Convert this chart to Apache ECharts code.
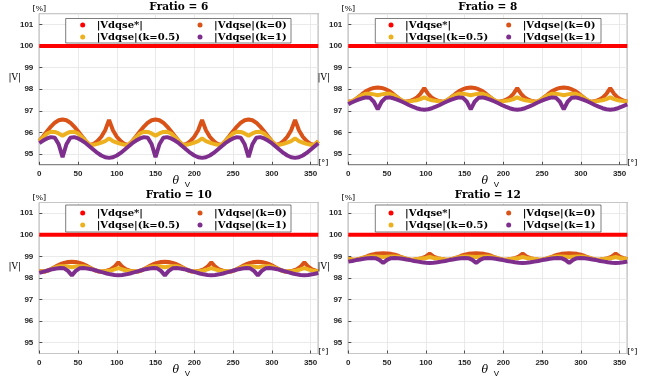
<!DOCTYPE html>
<html>
<head>
<meta charset="utf-8">
<script src="https://cdn.jsdelivr.net/npm/echarts@6/dist/echarts.min.js"></script>
<style>
  html, body { margin: 0; padding: 0; background: #fff; }
  #chart { width: 646px; height: 381px; }
</style>
</head>
<body>
<div id="chart"></div>
<script>
// legend names and panel titles
const seriesNames = ['|Vdqse*|', '|Vdqse|(k=0)', '|Vdqse|(k=0.5)', '|Vdqse|(k=1)'];
const panelTitles = ['Fratio = 6', 'Fratio = 8', 'Fratio = 10', 'Fratio = 12'];

// reference magnitude (flat 100 %)
const refTheta = [0, 360];
const refLevel = [100, 100];

// angle samples [deg]
const theta5 = [
  0,5,10,15,20,25,30,35,40,45,50,55,60,65,70,75,80,85,90,95,100,105,110,115,
  120,125,130,135,140,145,150,155,160,165,170,175,180,185,190,195,200,205,210,215,220,225,230,235,
  240,245,250,255,260,265,270,275,280,285,290,295,300,305,310,315,320,325,330,335,340,345,350,355,
  360
];
const theta8 = [
  0,
  3,8,13,18,23,28,33,38,43,48,53,58,63,68,73,78,83,88,93,98,103,108,113,118,
  123,128,133,138,143,148,153,158,163,168,173,178,183,188,193,198,203,208,213,218,223,228,233,238,
  243,248,253,258,263,268,273,278,283,288,293,298,303,308,313,318,323,328,333,338,343,348,353,358,
  360
];
const theta10 = [
  0,
  2,7,12,17,22,27,32,37,42,47,52,57,62,67,72,77,82,87,92,97,102,107,112,117,
  122,127,132,137,142,147,152,157,162,167,172,177,182,187,192,197,202,207,212,217,222,227,232,237,
  242,247,252,257,262,267,272,277,282,287,292,297,302,307,312,317,322,327,332,337,342,347,352,357,
  360
];

// Fratio = 6
const k0Fr6 = [
  95.6,95.82,96.05,96.27,96.45,96.56,96.6,96.56,96.45,96.27,96.05,95.82,95.6,95.42,95.46,95.6,95.8,96.1,96.58,96.1,95.8,95.6,95.46,95.42,
  95.6,95.82,96.05,96.27,96.45,96.56,96.6,96.56,96.45,96.27,96.05,95.82,95.6,95.42,95.46,95.6,95.8,96.1,96.58,96.1,95.8,95.6,95.46,95.42,
  95.6,95.82,96.05,96.27,96.45,96.56,96.6,96.56,96.45,96.27,96.05,95.82,95.6,95.42,95.46,95.6,95.8,96.1,96.58,96.1,95.8,95.6,95.46,95.42,
  95.6
];
const k05Fr6 = [
  95.6,95.78,95.95,96.03,96.02,95.95,95.85,95.95,96.02,96.03,95.95,95.78,95.6,95.42,95.43,95.47,95.53,95.6,95.72,95.6,95.53,95.47,95.43,95.42,
  95.6,95.78,95.95,96.03,96.02,95.95,95.85,95.95,96.02,96.03,95.95,95.78,95.6,95.42,95.43,95.47,95.53,95.6,95.72,95.6,95.53,95.47,95.43,95.42,
  95.6,95.78,95.95,96.03,96.02,95.95,95.85,95.95,96.02,96.03,95.95,95.78,95.6,95.42,95.43,95.47,95.53,95.6,95.72,95.6,95.53,95.47,95.43,95.42,
  95.6
];
const k1Fr6 = [
  95.5,95.62,95.72,95.78,95.75,95.45,94.85,95.45,95.75,95.78,95.72,95.62,95.5,95.35,95.2,95.05,94.93,94.85,94.82,94.85,94.93,95.05,95.2,95.35,
  95.5,95.62,95.72,95.78,95.75,95.45,94.85,95.45,95.75,95.78,95.72,95.62,95.5,95.35,95.2,95.05,94.93,94.85,94.82,94.85,94.93,95.05,95.2,95.35,
  95.5,95.62,95.72,95.78,95.75,95.45,94.85,95.45,95.75,95.78,95.72,95.62,95.5,95.35,95.2,95.05,94.93,94.85,94.82,94.85,94.93,95.05,95.2,95.35,
  95.5
];

// Fratio = 8
const k0Fr8 = [
  97.43,
  97.42,97.5,97.64,97.78,97.91,98.0,98.06,98.08,98.06,98.0,97.91,97.78,97.64,97.5,97.42,97.44,97.5,97.6,97.78,98.05,97.78,97.6,97.5,97.44,
  97.42,97.5,97.64,97.78,97.91,98.0,98.06,98.08,98.06,98.0,97.91,97.78,97.64,97.5,97.42,97.44,97.5,97.6,97.78,98.05,97.78,97.6,97.5,97.44,
  97.42,97.5,97.64,97.78,97.91,98.0,98.06,98.08,98.06,98.0,97.91,97.78,97.64,97.5,97.42,97.44,97.5,97.6,97.78,98.05,97.78,97.6,97.5,97.44,
  97.43
];
const k05Fr8 = [
  97.43,
  97.42,97.5,97.62,97.73,97.79,97.79,97.76,97.72,97.76,97.79,97.79,97.73,97.62,97.5,97.42,97.43,97.46,97.49,97.54,97.62,97.54,97.49,97.46,97.43,
  97.42,97.5,97.62,97.73,97.79,97.79,97.76,97.72,97.76,97.79,97.79,97.73,97.62,97.5,97.42,97.43,97.46,97.49,97.54,97.62,97.54,97.49,97.46,97.43,
  97.42,97.5,97.62,97.73,97.79,97.79,97.76,97.72,97.76,97.79,97.79,97.73,97.62,97.5,97.42,97.43,97.46,97.49,97.54,97.62,97.54,97.49,97.46,97.43,
  97.43
];
const k1Fr8 = [
  97.3,
  97.36,97.44,97.52,97.58,97.62,97.6,97.42,97.07,97.42,97.6,97.62,97.58,97.52,97.44,97.36,97.27,97.19,97.12,97.07,97.05,97.07,97.12,97.19,97.27,
  97.36,97.44,97.52,97.58,97.62,97.6,97.42,97.07,97.42,97.6,97.62,97.58,97.52,97.44,97.36,97.27,97.19,97.12,97.07,97.05,97.07,97.12,97.19,97.27,
  97.36,97.44,97.52,97.58,97.62,97.6,97.42,97.07,97.42,97.6,97.62,97.58,97.52,97.44,97.36,97.27,97.19,97.12,97.07,97.05,97.07,97.12,97.19,97.27,
  97.3
];

// Fratio = 10
const k0Fr10 = [
  98.32,
  98.31,98.3,98.36,98.45,98.55,98.64,98.7,98.74,98.75,98.74,98.7,98.64,98.55,98.45,98.36,98.3,98.31,98.34,98.4,98.52,98.73,98.52,98.4,98.34,
  98.31,98.3,98.36,98.45,98.55,98.64,98.7,98.74,98.75,98.74,98.7,98.64,98.55,98.45,98.36,98.3,98.31,98.34,98.4,98.52,98.73,98.52,98.4,98.34,
  98.31,98.3,98.36,98.45,98.55,98.64,98.7,98.74,98.75,98.74,98.7,98.64,98.55,98.45,98.36,98.3,98.31,98.34,98.4,98.52,98.73,98.52,98.4,98.34,
  98.32
];
const k05Fr10 = [
  98.31,
  98.31,98.3,98.36,98.44,98.51,98.55,98.55,98.53,98.5,98.53,98.55,98.55,98.51,98.44,98.36,98.3,98.31,98.32,98.35,98.4,98.46,98.4,98.35,98.32,
  98.31,98.3,98.36,98.44,98.51,98.55,98.55,98.53,98.5,98.53,98.55,98.55,98.51,98.44,98.36,98.3,98.31,98.32,98.35,98.4,98.46,98.4,98.35,98.32,
  98.31,98.3,98.36,98.44,98.51,98.55,98.55,98.53,98.5,98.53,98.55,98.55,98.51,98.44,98.36,98.3,98.31,98.32,98.35,98.4,98.46,98.4,98.35,98.32,
  98.31
];
const k1Fr10 = [
  98.24,
  98.26,98.31,98.36,98.41,98.44,98.46,98.45,98.33,98.12,98.33,98.45,98.46,98.44,98.41,98.36,98.31,98.26,98.21,98.17,98.14,98.13,98.14,98.17,98.21,
  98.26,98.31,98.36,98.41,98.44,98.46,98.45,98.33,98.12,98.33,98.45,98.46,98.44,98.41,98.36,98.31,98.26,98.21,98.17,98.14,98.13,98.14,98.17,98.21,
  98.26,98.31,98.36,98.41,98.44,98.46,98.45,98.33,98.12,98.33,98.45,98.46,98.44,98.41,98.36,98.31,98.26,98.21,98.17,98.14,98.13,98.14,98.17,98.21,
  98.24
];

// Fratio = 12
const k0Fr12 = [
  98.88,98.86,98.85,98.89,98.95,99.02,99.08,99.12,99.14,99.15,99.14,99.12,99.08,99.02,98.95,98.89,98.85,98.86,98.88,98.92,98.99,99.13,98.99,98.92,
  98.88,98.86,98.85,98.89,98.95,99.02,99.08,99.12,99.14,99.15,99.14,99.12,99.08,99.02,98.95,98.89,98.85,98.86,98.88,98.92,98.99,99.13,98.99,98.92,
  98.88,98.86,98.85,98.89,98.95,99.02,99.08,99.12,99.14,99.15,99.14,99.12,99.08,99.02,98.95,98.89,98.85,98.86,98.88,98.92,98.99,99.13,98.99,98.92,
  98.88
];
const k05Fr12 = [
  98.88,98.86,98.85,98.89,98.94,98.98,99.0,99.0,98.99,98.97,98.99,99.0,99.0,98.98,98.94,98.89,98.85,98.86,98.88,98.9,98.93,98.97,98.93,98.9,
  98.88,98.86,98.85,98.89,98.94,98.98,99.0,99.0,98.99,98.97,98.99,99.0,99.0,98.98,98.94,98.89,98.85,98.86,98.88,98.9,98.93,98.97,98.93,98.9,
  98.88,98.86,98.85,98.89,98.94,98.98,99.0,99.0,98.99,98.97,98.99,99.0,99.0,98.98,98.94,98.89,98.85,98.86,98.88,98.9,98.93,98.97,98.93,98.9,
  98.88
];
const k1Fr12 = [
  98.76,98.79,98.83,98.86,98.89,98.92,98.93,98.92,98.84,98.7,98.84,98.92,98.93,98.92,98.89,98.86,98.83,98.79,98.76,98.73,98.71,98.7,98.71,98.73,
  98.76,98.79,98.83,98.86,98.89,98.92,98.93,98.92,98.84,98.7,98.84,98.92,98.93,98.92,98.89,98.86,98.83,98.79,98.76,98.73,98.71,98.7,98.71,98.73,
  98.76,98.79,98.83,98.86,98.89,98.92,98.93,98.92,98.84,98.7,98.84,98.92,98.93,98.92,98.89,98.86,98.83,98.79,98.76,98.73,98.71,98.7,98.71,98.73,
  98.76
];

const panelData = [
  { theta: theta5, k0: k0Fr6, k05: k05Fr6, k1: k1Fr6 },
  { theta: theta8, k0: k0Fr8, k05: k05Fr8, k1: k1Fr8 },
  { theta: theta10, k0: k0Fr10, k05: k05Fr10, k1: k1Fr10 },
  { theta: theta5, k0: k0Fr12, k05: k05Fr12, k1: k1Fr12 },
];

// layout of the 2x2 subplots (px)
const panels = [
  { left: 39.3, top: 13.6, height: 151.2, box: [65.7, 18.5, 225.3, 24.5], col: [82.7, 200], row: 25, titleY: 7 },
  { left: 348.3, top: 13.6, height: 151.2, box: [375.3, 18.5, 225.7, 24.5], col: [391, 508.7], row: 25, titleY: 7 },
  { left: 39.3, top: 202.5, height: 151, box: [65.7, 205, 225.3, 27], col: [82.7, 200], row: 213, titleY: 195.5 },
  { left: 348.3, top: 202.5, height: 151, box: [375.3, 205, 225.7, 27], col: [391, 508.7], row: 213, titleY: 195.5 },
];
const plotWidth = 279;

const colors = ['#ff0000', '#d95319', '#edb120', '#7e2f8e'];
const axisColor = '#262626';
const serif = '"DejaVu Serif", serif';
const tickFont = { fontFamily: 'Liberation Sans', fontSize: 8, fontWeight: 'bold', color: axisColor };

const chart = echarts.init(document.getElementById('chart'));

const grids = [], xAxes = [], yAxes = [], series = [], legends = [], graphics = [];

panels.forEach((p, i) => {
  grids.push({
    left: p.left, top: p.top, width: plotWidth, height: p.height,
    show: true, borderColor: axisColor, borderWidth: 0.8, backgroundColor: '#fff',
  });
  xAxes.push({
    gridIndex: i, type: 'value', min: 0, max: 360, interval: 50,
    axisLine: { show: false },
    axisTick: { inside: true, length: 3, lineStyle: { color: axisColor, width: 0.8 } },
    axisLabel: { ...tickFont, margin: 5, showMaxLabel: false },
    splitLine: { lineStyle: { color: '#e4e4e4', width: 0.8 } },
  });
  yAxes.push({
    gridIndex: i, type: 'value', min: 94.5, max: 101.5, splitNumber: 7,
    axisLine: { show: false },
    axisTick: { inside: true, length: 3, lineStyle: { color: axisColor, width: 0.8 } },
    axisLabel: { ...tickFont, margin: 6, showMinLabel: false, showMaxLabel: false },
    splitLine: { lineStyle: { color: '#e4e4e4', width: 0.8 } },
  });

  const d = panelData[i];
  const lines = [
    refTheta.map((t, j) => [t, refLevel[j]]),
    d.theta.map((t, j) => [t, d.k0[j]]),
    d.theta.map((t, j) => [t, d.k05[j]]),
    d.theta.map((t, j) => [t, d.k1[j]]),
  ];
  lines.forEach((data, s) => {
    series.push({
      name: seriesNames[s], type: 'line', xAxisIndex: i, yAxisIndex: i,
      data, showSymbol: false, symbol: 'none', animation: false,
      lineStyle: { color: colors[s], width: 4 },
      itemStyle: { color: colors[s] },
      z: 2 + s,
    });
  });

  // legend, two columns over a white boxed frame
  [[seriesNames[0], seriesNames[2]], [seriesNames[1], seriesNames[3]]].forEach((names, c) => {
    legends.push({
      z: 20, orient: 'vertical', left: p.col[c] - 2.5, top: p.row - 6, padding: 0,
      itemWidth: 18, itemHeight: 5, itemGap: 0, icon: 'circle', selectedMode: false,
      data: names,
      textStyle: { fontFamily: serif, fontWeight: 'bold', fontSize: 10, color: '#000', lineHeight: 12 },
    });
  });
  graphics.push({
    type: 'rect', z: 8, shape: { x: p.box[0], y: p.box[1], width: p.box[2], height: p.box[3] },
    style: { fill: '#fff', stroke: axisColor, lineWidth: 0.6 },
  });

  const bottom = p.top + p.height;
  const txt = (text, x, y, font) => graphics.push({
    type: 'text', z: 12, x, y,
    style: { text, fill: '#000', font, align: 'center', verticalAlign: 'middle',
      textAlign: 'center', textVerticalAlign: 'middle' },
  });
  txt(panelTitles[i], p.left + 139.5, p.titleY, 'bold 10.5px ' + serif);
  txt('[%]', p.left, p.top - 4.5, '8px ' + serif);
  txt('|V|', p.left - 24.5, p.top + 64.5, '9px ' + serif);
  txt('[°]', p.left + 284, bottom - 1.5, '8px ' + serif);
  txt('θ', p.left + 136.5, bottom + 16.5, 'italic 11px ' + serif);
  txt('V', p.left + 148, bottom + 20, '8px "Liberation Sans", sans-serif');
});

chart.setOption({
  animation: false,
  backgroundColor: '#fff',
  grid: grids,
  xAxis: xAxes,
  yAxis: yAxes,
  legend: legends,
  series,
  graphic: { elements: graphics },
});
</script>
</body>
</html>
